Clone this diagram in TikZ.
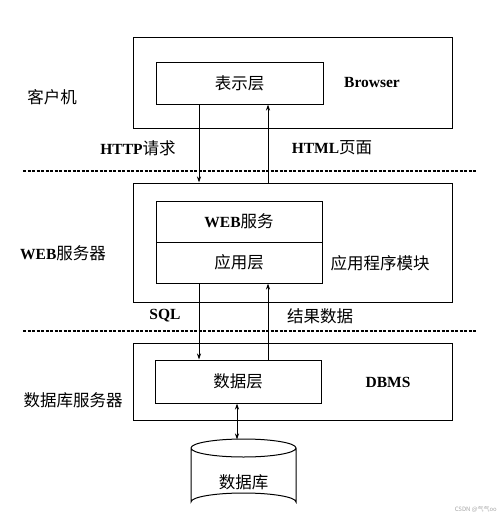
\documentclass[tikz,border=0pt]{standalone}
\usepackage{fontspec}
\setmainfont{Liberation Serif}
\newfontfamily\cjk{Noto Sans CJK SC}
\usetikzlibrary{arrows.meta}
\begin{document}
\begin{tikzpicture}[x=1pt,y=-1pt,
  box/.style={draw,line width=1pt,inner sep=0pt},
  lbl/.style={inner sep=0pt,font=\bfseries\fontsize{15.5}{17}\selectfont},
  cn/.style={inner sep=0pt,font=\cjk\fontsize{16.5}{18}\selectfont},
  arr/.style={line width=1pt,-{Stealth[length=6pt,width=4pt]}},
  sep/.style={line width=1.3pt,dash pattern=on 3pt off 1.5pt}]
\useasboundingbox (0,0) rectangle (500,517);
% client tier
\node[box,minimum width=319pt,minimum height=91pt] (client) at (292.5,82.5) {};
\node[box,minimum width=167pt,minimum height=42pt,cn] (pres) at (239.5,83) {表示层};
\node[lbl] (browser) at (372,82) {Browser};
\node[cn] (clientlbl) at (52,97) {客户机};
% web tier
\node[box,minimum width=319pt,minimum height=119pt] (web) at (292.5,242.5) {};
\node[box,minimum width=166pt,minimum height=41pt,font=\bfseries\fontsize{15.5}{17}\selectfont] (websvc) at (239,221.5) {WEB{\cjk\mdseries\fontsize{16.5}{18}\selectfont 服务}};
\node[box,minimum width=166pt,minimum height=41pt,cn] (app) at (239,262.5) {应用层};
\node[cn] (appmod) at (380,263) {应用程序模块};
\node[lbl] (weblbl) at (63,253) {WEB{\cjk\mdseries\fontsize{16.5}{18}\selectfont 服务器}};
% db tier
\node[box,minimum width=319pt,minimum height=77pt] (dbsrv) at (292.5,381.5) {};
\node[box,minimum width=166pt,minimum height=43pt,cn] (data) at (238,381.5) {数据层};
\node[lbl] (dbms) at (388,382) {DBMS};
\node[cn] (dblbl) at (73,400) {数据库服务器};
% cylinder
\draw[line width=1pt] (191,448) arc[start angle=180,end angle=-180,x radius=52.5,y radius=9]
  (191,448) -- (191,502) arc[start angle=180,end angle=360,x radius=52.5,y radius=9] -- (296,448);
\coordinate (cyltop) at (237,439.5);
\node[cn] (db) at (243.5,482) {数据库};
% separators
\coordinate (s1a) at (23,171); \coordinate (s1b) at (477,171);
\coordinate (s2a) at (23,331); \coordinate (s2b) at (477,331);
\draw[sep] (s1a) -- (s1b);
\draw[sep] (s2a) -- (s2b);
% arrows
\draw[arr] (pres.south -| 199,0) -- (web.north -| 199,0);
\draw[arr] (web.north -| 268,0) -- (pres.south -| 268,0);
\draw[arr] (app.south -| 199,0) -- (data.north -| 199,0);
\draw[arr] (data.north -| 268,0) -- (app.south -| 268,0);
\draw[line width=1pt,{Stealth[length=6pt,width=4pt]}-{Stealth[length=6pt,width=4pt]}] (data.south -| 237,0) -- (cyltop);
% labels
\node[lbl] (http) at (138,148) {HTTP{\cjk\mdseries\fontsize{16.5}{18}\selectfont 请求}};
\node[lbl] (html) at (332,148) {HTML{\cjk\mdseries\fontsize{16.5}{18}\selectfont 页面}};
\node[lbl] (sql) at (165,316) {SQL};
\node[cn] (result) at (320,316) {结果数据};
\node[inner sep=0pt,anchor=east,text=black!35,font=\cjk\fontsize{6}{7}\selectfont] (wm) at (497,509) {CSDN @气气oo};
\end{tikzpicture}
\end{document}
